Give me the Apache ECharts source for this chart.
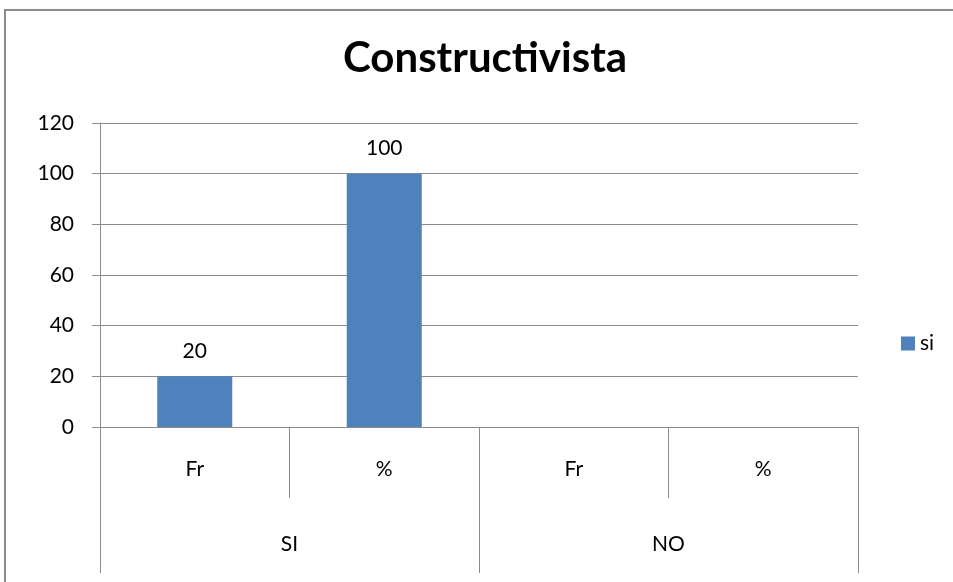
<!DOCTYPE html>
<html>
<head>
<meta charset="utf-8">
<script src="https://cdn.jsdelivr.net/npm/echarts@6/dist/echarts.min.js"></script>
<style>
  html, body { margin: 0; padding: 0; background: #fff; }
  #chart { width: 953px; height: 582px; }
</style>
</head>
<body>
<div id="chart"></div>
<script>
const innerLabels = ['Fr', '%', 'Fr', '%'];
const outerLabels = ['SI', 'NO'];
const siValues = [20, 100, null, null];
const yTicks = { min: 0, max: 120, interval: 20 };

const gray = '#8c8c8c';
const font = 'Lato, "Open Sans", sans-serif';

const myChart = echarts.init(document.getElementById('chart'));
const option = {
  animation: false,
  backgroundColor: '#fff',
  textStyle: { fontFamily: font },
  title: {
    text: 'Constructivista',
    left: 338,
    top: 32,
    textStyle: { fontSize: 42, fontWeight: 'bold', color: '#000', fontFamily: font }
  },
  graphic: [
    {
      type: 'rect',
      shape: { x: 5, y: 10, width: 1000, height: 1000 },
      style: { fill: 'none', stroke: gray, lineWidth: 2 },
      silent: true
    }
  ],
  legend: {
    orient: 'vertical',
    left: 896,
    top: 328,
    icon: 'rect',
    itemWidth: 14,
    itemHeight: 14,
    itemGap: 6,
    textStyle: { fontSize: 21, color: '#000', fontFamily: font },
    data: ['si']
  },
  grid: { left: 100, right: 95, top: 123, bottom: 155 },
  xAxis: [
    {
      type: 'category',
      data: innerLabels,
      axisLine: { lineStyle: { color: gray, width: 1 } },
      axisTick: { show: true, interval: 0, length: 71, lineStyle: { color: gray } },
      axisLabel: { interval: 0, margin: 32, fontSize: 21, color: '#000', fontFamily: font }
    },
    {
      type: 'category',
      data: outerLabels,
      position: 'bottom',
      offset: 71,
      axisLine: { show: false },
      axisTick: { show: true, interval: 0, length: 75, lineStyle: { color: gray } },
      axisLabel: { interval: 0, margin: 36, fontSize: 21, color: '#000', fontFamily: font }
    }
  ],
  yAxis: {
    type: 'value',
    min: yTicks.min,
    max: yTicks.max,
    interval: yTicks.interval,
    axisLine: { show: true, lineStyle: { color: gray } },
    axisTick: { show: true, length: 8, lineStyle: { color: gray } },
    splitLine: { lineStyle: { color: gray } },
    axisLabel: { margin: 26, fontSize: 21, color: '#000', fontFamily: font }
  },
  series: [
    {
      name: 'si',
      type: 'bar',
      xAxisIndex: 0,
      barWidth: 75,
      itemStyle: { color: '#4F81BD' },
      label: { show: true, position: 'top', distance: 15, fontSize: 21, color: '#000', fontFamily: font },
      data: siValues
    }
  ]
};
myChart.setOption(option);
</script>
</body>
</html>
